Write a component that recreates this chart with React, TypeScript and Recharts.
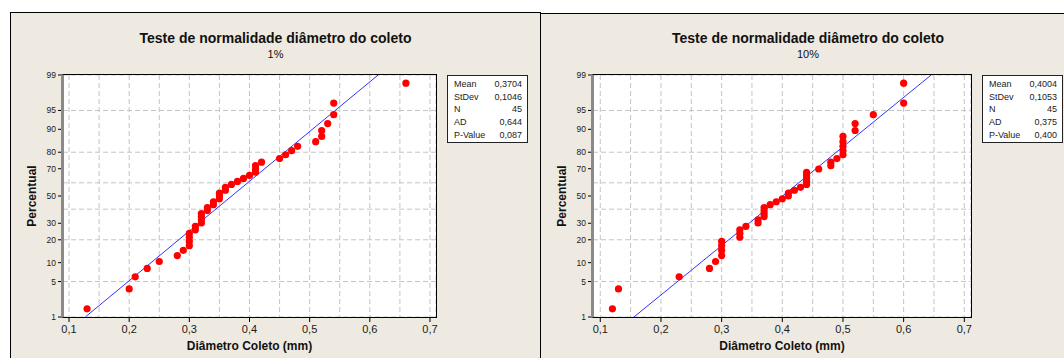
import React from "react";
import { ScatterChart, Scatter, XAxis, YAxis, CartesianGrid } from "recharts";

// percentile positions shared by both samples (n = 45)
const PERCENT = [
  1.5, 3.7, 6.0, 8.2, 10.4, 12.6, 14.8, 17.0, 19.2, 21.4, 23.6, 25.8, 28.0, 30.2, 32.4,
  34.6, 36.8, 39.0, 41.2, 43.4, 45.6, 47.8, 50.0, 52.2, 54.4, 56.6, 58.8, 61.0, 63.2, 65.4,
  67.6, 69.8, 72.0, 74.2, 76.4, 78.6, 80.8, 83.0, 85.2, 87.4, 89.6, 91.8, 94.1, 96.3, 98.5,
];

const DIAM_1 = [
  0.13, 0.2, 0.21, 0.23, 0.25, 0.28, 0.29, 0.3, 0.3, 0.3, 0.3, 0.31, 0.31, 0.32, 0.32,
  0.32, 0.32, 0.33, 0.33, 0.34, 0.34, 0.35, 0.35, 0.35, 0.36, 0.36, 0.37, 0.38, 0.39, 0.4,
  0.41, 0.41, 0.41, 0.42, 0.45, 0.46, 0.47, 0.48, 0.51, 0.52, 0.52, 0.53, 0.54, 0.54, 0.66,
];

const DIAM_10 = [
  0.12, 0.13, 0.23, 0.28, 0.29, 0.3, 0.3, 0.3, 0.3, 0.33, 0.33, 0.33, 0.34, 0.36, 0.36,
  0.37, 0.37, 0.37, 0.37, 0.38, 0.39, 0.4, 0.41, 0.41, 0.42, 0.43, 0.44, 0.44, 0.44, 0.44,
  0.44, 0.46, 0.48, 0.48, 0.49, 0.5, 0.5, 0.5, 0.5, 0.5, 0.52, 0.52, 0.55, 0.6, 0.6,
];

const X_TICKS = [0.1, 0.2, 0.3, 0.4, 0.5, 0.6, 0.7];
const X_GRID = [0.1, 0.15, 0.2, 0.25, 0.3, 0.35, 0.4, 0.45, 0.5, 0.55, 0.6, 0.65, 0.7];
const Y_TICKS = [1, 5, 10, 20, 30, 40, 50, 60, 70, 80, 90, 95, 99];

const STAT_LABELS = ["Mean", "StDev", "N", "AD", "P-Value"];
const STATS_1 = ["0,3704", "0,1046", "45", "0,644", "0,087"];
const STATS_10 = ["0,4004", "0,1053", "45", "0,375", "0,400"];
const MEAN_1 = 0.3704;
const SD_1 = 0.1046;
const MEAN_10 = 0.4004;
const SD_10 = 0.1053;

const TITLE = "Teste de normalidade diâmetro do coleto";
const X_LABEL = "Diâmetro Coleto (mm)";
const Y_LABEL = "Percentual";

const FONT = "'Liberation Sans', Arial, sans-serif";
const BG = "#eeeae1";

// inverse normal cdf (Acklam)
function probit(p: number) {
  const a = [-39.69683028665376, 220.9460984245205, -275.9285104469687, 138.357751867269, -30.66479806614716, 2.506628277459239];
  const b = [-54.47609879822406, 161.5858368580409, -155.6989798598866, 66.80131188771972, -13.28068155288572];
  const c = [-0.007784894002430293, -0.3223964580411365, -2.400758277161838, -2.549732539343734, 4.374664141464968, 2.938163982698783];
  const d = [0.007784695709041462, 0.3224671290700398, 2.445134137142996, 3.754408661907416];
  const plow = 0.02425;
  if (p < plow) {
    const q = Math.sqrt(-2 * Math.log(p));
    return (((((c[0] * q + c[1]) * q + c[2]) * q + c[3]) * q + c[4]) * q + c[5]) / ((((d[0] * q + d[1]) * q + d[2]) * q + d[3]) * q + 1);
  }
  if (p <= 1 - plow) {
    const q = p - 0.5;
    const r = q * q;
    return ((((((a[0] * r + a[1]) * r + a[2]) * r + a[3]) * r + a[4]) * r + a[5]) * q) / (((((b[0] * r + b[1]) * r + b[2]) * r + b[3]) * r + b[4]) * r + 1);
  }
  const q = Math.sqrt(-2 * Math.log(1 - p));
  return -(((((c[0] * q + c[1]) * q + c[2]) * q + c[3]) * q + c[4]) * q + c[5]) / ((((d[0] * q + d[1]) * q + d[2]) * q + d[3]) * q + 1);
}

const Z_LOW = probit(Y_TICKS[0] / 100);
const Z_HIGH = probit(Y_TICKS[Y_TICKS.length - 1] / 100);
const Y_TICK_Z = Y_TICKS.map((p) => probit(p / 100));

const Dot = (props: any) => <circle cx={props.cx} cy={props.cy} r={3.6} fill="#ff0000" />;

function Panel({
  ox, panelTop, panelW, chartW, plotW, domain, diam, mean, sd, stats, subtitle,
}: any) {
  const plotLeft = 63;
  const plotTop = 75;
  const plotBottom = 317;
  const plotRight = plotLeft + plotW;
  const points = diam.map((x: number, i: number) => ({ x, z: probit(PERCENT[i] / 100) }));
  const fit = [
    { x: mean + sd * Z_LOW, z: Z_LOW },
    { x: mean + sd * Z_HIGH, z: Z_HIGH },
  ];
  const panelCenter = 10 + panelW / 2;

  return (
    <div style={{ position: "absolute", left: ox, top: 0, width: chartW, height: 358 }}>
      <div
        style={{
          position: "absolute", left: 10, top: panelTop, width: panelW, height: 400,
          boxSizing: "border-box", border: "1px solid #000", background: BG,
        }}
      />
      <div style={{ position: "absolute", left: panelCenter - 200, width: 400, top: 30, textAlign: "center", fontFamily: FONT, fontSize: 14, fontWeight: "bold", lineHeight: "16px", color: "#111" }}>
        {TITLE}
      </div>
      <div style={{ position: "absolute", left: panelCenter - 50, width: 100, top: 47, textAlign: "center", fontFamily: FONT, fontSize: 11, lineHeight: "14px", color: "#111" }}>
        {subtitle}
      </div>
      <div style={{ position: "absolute", left: 0, top: 0 }}>
        <ScatterChart
          width={chartW}
          height={358}
          margin={{ top: plotTop, right: chartW - plotRight, bottom: 358 - plotBottom - 30, left: plotLeft - 40 }}
          style={{ fontFamily: FONT }}
        >
          <XAxis xAxisId="grid" type="number" dataKey="x" domain={domain} ticks={X_GRID} hide allowDataOverflow />
          <CartesianGrid xAxisId="grid" stroke="#c4c4c4" strokeDasharray="5 3" fill="#ffffff" />
          <XAxis
            type="number" dataKey="x" domain={domain} ticks={X_TICKS} allowDataOverflow height={30}
            axisLine={false} tickSize={5} tickMargin={3} tickLine={{ stroke: "#000" }}
            tick={{ fontSize: 11, fill: "#1a1a1a" }}
            tickFormatter={(v: number) => v.toFixed(1).replace(".", ",")}
          />
          <YAxis
            type="number" dataKey="z" domain={[Z_LOW, Z_HIGH]} ticks={Y_TICK_Z} allowDataOverflow width={40}
            axisLine={false} tickSize={5} tickMargin={2} tickLine={{ stroke: "#000" }}
            tick={{ fontSize: 8.5, fill: "#1a1a1a" }}
            tickFormatter={(v: number) => {
              const i = Y_TICK_Z.findIndex((t) => Math.abs(t - v) < 1e-6);
              return i >= 0 ? String(Y_TICKS[i]) : "";
            }}
          />
          <Scatter data={fit} line={{ stroke: "#3333ff", strokeWidth: 1 }} shape={() => <g />} isAnimationActive={false} />
          <Scatter data={points} shape={Dot} isAnimationActive={false} />
        </ScatterChart>
      </div>
      <div
        style={{
          position: "absolute", left: plotLeft - 2, top: plotTop - 1, width: plotW + 3, height: plotBottom - plotTop + 2,
          boxSizing: "border-box", borderTop: "1px solid #000", borderRight: "1px solid #000",
          borderBottom: "1px solid #000", borderLeft: "3px solid #8a8a8a", pointerEvents: "none",
        }}
      />
      <div
        style={{
          position: "absolute", left: plotRight + 11, top: plotTop, width: 81, height: 68,
          boxSizing: "border-box", border: "1px solid #222", background: "#fff",
          padding: "2px 5px 0 6px", fontFamily: FONT, fontSize: 9, lineHeight: "12.7px", color: "#222",
        }}
      >
        {STAT_LABELS.map((l, i) => (
          <div key={l} style={{ display: "flex", justifyContent: "space-between" }}>
            <span>{l}</span>
            <span>{stats[i]}</span>
          </div>
        ))}
      </div>
      <div style={{ position: "absolute", left: (plotLeft + plotRight) / 2 - 100, width: 200, top: 339, textAlign: "center", fontFamily: FONT, fontSize: 12, fontWeight: "bold", lineHeight: "14px", color: "#111" }}>
        {X_LABEL}
      </div>
      <div
        style={{
          position: "absolute", left: 32 - 50, top: (plotTop + plotBottom) / 2 - 7, width: 100, textAlign: "center",
          transform: "rotate(-90deg)", fontFamily: FONT, fontSize: 12, fontWeight: "bold", lineHeight: "14px", color: "#111",
        }}
      >
        {Y_LABEL}
      </div>
    </div>
  );
}

export default function App() {
  return (
    <div style={{ position: "absolute", left: 0, top: 0, width: 1064, height: 358, background: "#fff", overflow: "hidden" }}>
      <Panel
        ox={0} panelTop={12} panelW={531} chartW={540} plotW={373} domain={[0.09, 0.71]}
        diam={DIAM_1} mean={MEAN_1} sd={SD_1} stats={STATS_1} subtitle="1%"
      />
      <Panel
        ox={530} panelTop={13} panelW={536} chartW={534} plotW={378} domain={[0.088, 0.711]}
        diam={DIAM_10} mean={MEAN_10} sd={SD_10} stats={STATS_10} subtitle="10%"
      />
    </div>
  );
}
